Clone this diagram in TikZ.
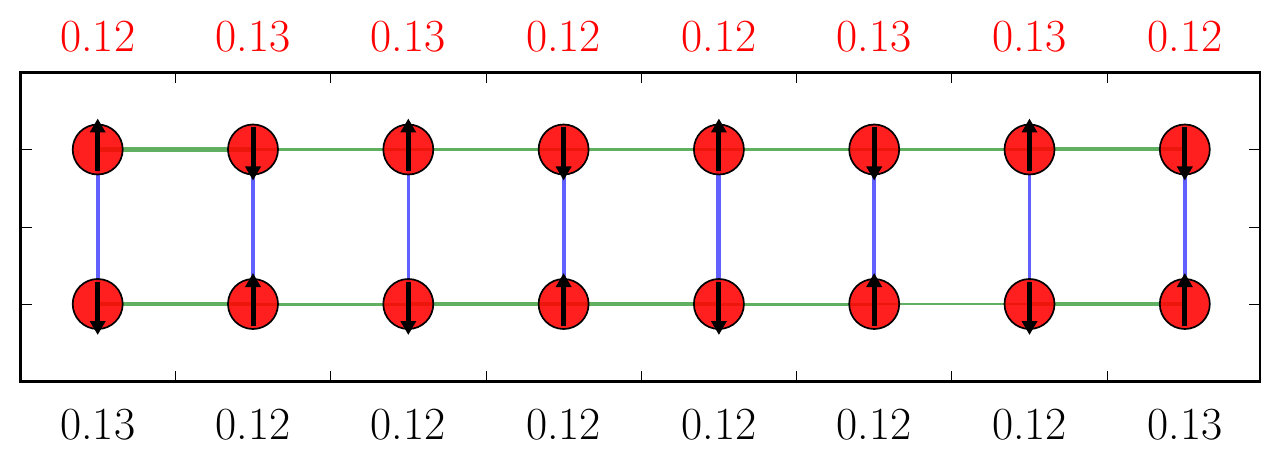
\documentclass[tikz,border=0pt]{standalone}
\usetikzlibrary{arrows.meta}
\begin{document}
\begin{tikzpicture}[x=0.5pt,y=-0.5pt,
  site/.style={circle,draw=black,line width=0.85pt,fill=red,fill opacity=0.88,minimum size=25pt,inner sep=0pt},
  hbond/.style={draw=green!50!black,draw opacity=0.62},
  vbond/.style={draw=blue,draw opacity=0.62},
  spin/.style={line width=2.5pt,-{Triangle[width=7.5pt,length=7pt]}},
  toplab/.style={text=red,font=\fontsize{23}{26}\selectfont},
  botlab/.style={text=black,font=\fontsize{23}{26}\selectfont},
  frame/.style={line width=1.25pt},
  axtick/.style={line width=0.5pt}
]
\useasboundingbox (0,0) rectangle (1280,465);
% nodes
\foreach \i in {0,...,7}{
  \coordinate (tc\i) at ({97.7+155.3*\i},149.5);
  \coordinate (bc\i) at ({97.7+155.3*\i},304);
}
% green horizontal bonds
\foreach \i/\j/\w in {0/1/2.25,1/2/1.5,2/3/1.5,3/4/1.75,4/5/1.5,5/6/1.25,6/7/2}{
  \draw[hbond,line width=\w pt] (tc\i) -- (tc\j);
}
\foreach \i/\j/\w in {0/1/2.25,1/2/1.5,2/3/1.75,3/4/2,4/5/1.5,5/6/1.25,6/7/2}{
  \draw[hbond,line width=\w pt] (bc\i) -- (bc\j);
}
% blue vertical bonds
\foreach \i/\w in {0/2,1/2.25,2/1.25,3/2,4/2.5,5/2.25,6/1.25,7/2}{
  \draw[vbond,line width=\w pt] (tc\i) -- (bc\i);
}
% sites
\foreach \i in {0,...,7}{
  \node[site] (t\i) at (tc\i) {};
  \node[site] (b\i) at (bc\i) {};
}
% spins
\foreach \i/\s in {0/1,1/-1,2/1,3/-1,4/1,5/-1,6/1,7/-1}{
  \draw[spin] ([yshift={-11*\s pt}]t\i.center) -- ([yshift={15.5*\s pt}]t\i.center);
  \draw[spin] ([yshift={11*\s pt}]b\i.center) -- ([yshift={-15.5*\s pt}]b\i.center);
}
% frame
\draw[frame] (20.3,72.3) rectangle (1260,381.7);
\foreach \y in {149.5,227,304}{
  \draw[axtick] (20.3,\y) -- (31.5,\y);
  \draw[axtick] (1260,\y) -- (1248.8,\y);
}
\foreach \i in {0,...,6}{
  \draw[axtick] ({175.4+155.3*\i},381.7) -- ({175.4+155.3*\i},370.5);
  \draw[axtick] ({175.4+155.3*\i},72.3) -- ({175.4+155.3*\i},83.5);
}
% labels
\foreach \i/\t in {0/0.12,1/0.13,2/0.13,3/0.12,4/0.12,5/0.13,6/0.13,7/0.12}{
  \node[toplab] (top\i) at ({97.7+155.3*\i},37) {\t};
}
\foreach \i/\t in {0/0.13,1/0.12,2/0.12,3/0.12,4/0.12,5/0.12,6/0.12,7/0.13}{
  \node[botlab] (bot\i) at ({97.7+155.3*\i},425) {\t};
}
\end{tikzpicture}
\end{document}
